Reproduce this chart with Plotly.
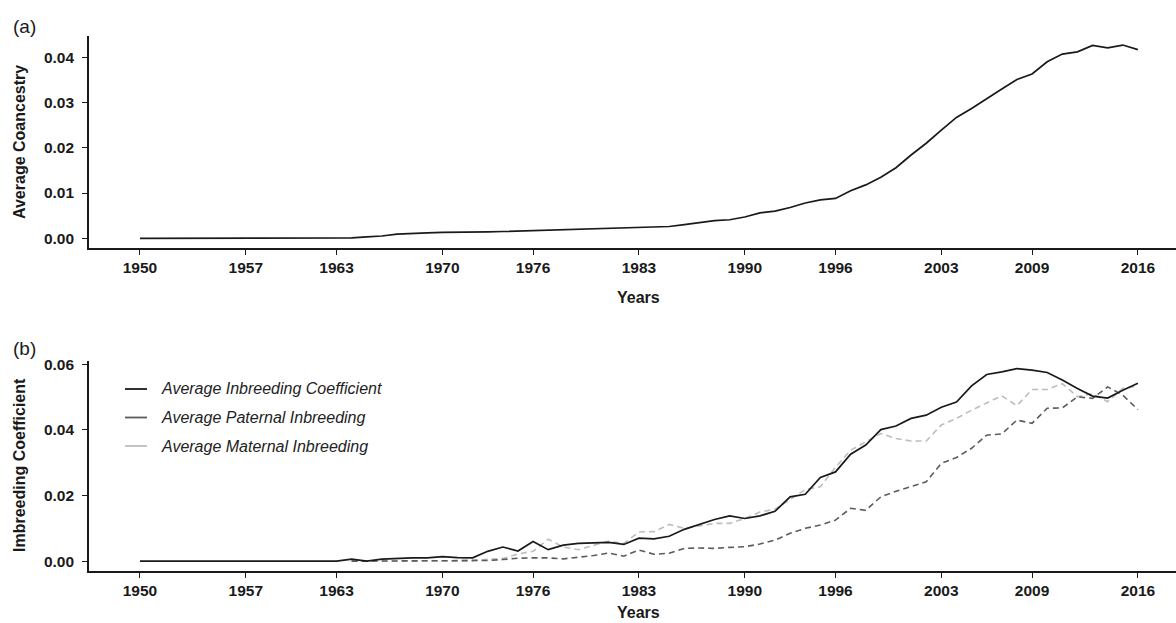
import plotly.graph_objects as go

# ---- data -----------------------------------------------------------------
years = list(range(1950, 2017))
tick_years = [1950, 1957, 1963, 1970, 1976, 1983, 1990, 1996, 2003, 2009, 2016]

avg_coancestry = [
    0.0000, 0.0000, 0.0000, 0.0000, 0.0000, 0.0000, 0.0000, 0.0000, 0.0000, 0.0000,
    0.0000, 0.0000, 0.0000, 0.0000, 0.0001, 0.0003, 0.0005, 0.0009, 0.0011, 0.0012,
    0.0013, 0.0013, 0.0014, 0.0014, 0.0015, 0.0016, 0.0017, 0.0017, 0.0018, 0.0019,
    0.0020, 0.0021, 0.0022, 0.0023, 0.0024, 0.0026, 0.0030, 0.0034, 0.0039, 0.0041,
    0.0047, 0.0056, 0.0060, 0.0068, 0.0078, 0.0085, 0.0088, 0.0105, 0.0118, 0.0135,
    0.0156, 0.0184, 0.0210, 0.0239, 0.0267, 0.0287, 0.0309, 0.0330, 0.0351, 0.0363,
    0.0390, 0.0407, 0.0412, 0.0426, 0.0421, 0.0427, 0.0417,
]

avg_inbreeding = [
    0.0000, 0.0000, 0.0000, 0.0000, 0.0000, 0.0000, 0.0000, 0.0000, 0.0000, 0.0000,
    0.0000, 0.0000, 0.0000, 0.0000, 0.0006, 0.0000, 0.0006, 0.0009, 0.0010, 0.0010,
    0.0014, 0.0011, 0.0010, 0.0030, 0.0043, 0.0031, 0.0060, 0.0035, 0.0049, 0.0054,
    0.0056, 0.0057, 0.0051, 0.0070, 0.0068, 0.0076, 0.0097, 0.0113, 0.0127, 0.0138,
    0.0130, 0.0138, 0.0152, 0.0196, 0.0204, 0.0255, 0.0272, 0.0326, 0.0354, 0.0401,
    0.0412, 0.0435, 0.0445, 0.0469, 0.0485, 0.0534, 0.0569, 0.0577, 0.0587, 0.0582,
    0.0575, 0.0552, 0.0526, 0.0503, 0.0497, 0.0521, 0.0542,
]

# parental components are only recorded from 1964 onwards
parent_years = list(range(1964, 2017))

avg_paternal = [
    0.0000, 0.0000, 0.0000, 0.0000, 0.0000, 0.0000, 0.0000, 0.0000, 0.0001, 0.0002,
    0.0005, 0.0009, 0.0010, 0.0010, 0.0007, 0.0011, 0.0017, 0.0025, 0.0015, 0.0034,
    0.0021, 0.0024, 0.0039, 0.0040, 0.0039, 0.0042, 0.0044, 0.0052, 0.0064, 0.0085,
    0.0100, 0.0110, 0.0125, 0.0161, 0.0155, 0.0196, 0.0213, 0.0227, 0.0242, 0.0298,
    0.0316, 0.0344, 0.0384, 0.0388, 0.0430, 0.0420, 0.0466, 0.0467, 0.0501, 0.0496,
    0.0531, 0.0506, 0.0462,
]

avg_maternal = [
    0.0000, 0.0000, 0.0000, 0.0000, 0.0000, 0.0000, 0.0000, 0.0001, 0.0003, 0.0005,
    0.0008, 0.0022, 0.0030, 0.0067, 0.0043, 0.0035, 0.0048, 0.0061, 0.0054, 0.0089,
    0.0090, 0.0112, 0.0100, 0.0107, 0.0115, 0.0115, 0.0130, 0.0150, 0.0158, 0.0188,
    0.0218, 0.0227, 0.0286, 0.0338, 0.0364, 0.0389, 0.0374, 0.0366, 0.0366, 0.0415,
    0.0435, 0.0460, 0.0482, 0.0504, 0.0474, 0.0523, 0.0523, 0.0541, 0.0501, 0.0511,
    0.0486, 0.0527, 0.0533,
]

legend_labels = [
    "Average Inbreeding Coefficient",
    "Average Paternal Inbreeding",
    "Average Maternal Inbreeding",
]

# ---- styling --------------------------------------------------------------
W, H = 1176, 623
M_L, M_R, M_T, M_B = 89, 0, 36, 52
PW, PH = W - M_L - M_R, H - M_T - M_B

FONT = "Liberation Sans, Arial, Helvetica, sans-serif"
INK = "#1a1a1a"
C_ALL, C_PAT, C_MAT = "#1a1a1a", "#5c5c5c", "#bdbdbd"
DASH = "6px,4px"


def px_x(x):
    return (x - M_L) / PW


def px_y(y):
    return (H - M_B - y) / PH


fig = go.Figure()

fig.add_trace(go.Scatter(x=years, y=avg_coancestry, mode="lines",
                         line=dict(color=C_ALL, width=1.7),
                         xaxis="x", yaxis="y", showlegend=False))

fig.add_trace(go.Scatter(x=parent_years, y=avg_maternal, mode="lines",
                         line=dict(color=C_MAT, width=1.6, dash=DASH),
                         xaxis="x2", yaxis="y2", showlegend=False))
fig.add_trace(go.Scatter(x=parent_years, y=avg_paternal, mode="lines",
                         line=dict(color=C_PAT, width=1.6, dash=DASH),
                         xaxis="x2", yaxis="y2", showlegend=False))
fig.add_trace(go.Scatter(x=years, y=avg_inbreeding, mode="lines",
                         line=dict(color=C_ALL, width=1.7),
                         xaxis="x2", yaxis="y2", showlegend=False))

x_range = [1946.63, 2018.52]

common_x = dict(
    range=x_range, tickmode="array", tickvals=tick_years,
    ticktext=[str(t) for t in tick_years],
    showgrid=False, zeroline=False, showline=True, linecolor=INK, linewidth=1.6,
    ticks="outside", ticklen=5, tickwidth=1.4, tickcolor=INK,
    tickfont=dict(family=FONT, size=15.5, color=INK, weight="bold"),
    fixedrange=True,
)
common_y = dict(
    showgrid=False, zeroline=False, showline=True, linecolor=INK, linewidth=1.6,
    ticks="outside", ticklen=5, tickwidth=1.4, tickcolor=INK,
    tickfont=dict(family=FONT, size=15.5, color=INK, weight="bold"),
    tickformat=".2f", ticklabelstandoff=5, fixedrange=True,
)

fig.update_layout(
    width=W, height=H,
    margin=dict(l=M_L, r=M_R, t=M_T, b=M_B, pad=0),
    paper_bgcolor="white", plot_bgcolor="white",
    showlegend=False,
    xaxis=dict(common_x, domain=[0, 1], anchor="y"),
    yaxis=dict(common_y, domain=[px_y(247.7), 1.0], anchor="x",
               range=[-0.00208, 0.0447], tickvals=[0, 0.01, 0.02, 0.03, 0.04]),
    xaxis2=dict(common_x, domain=[0, 1], anchor="y2"),
    yaxis2=dict(common_y, domain=[0.0, px_y(361)], anchor="x2",
                range=[-0.0030, 0.0610], tickvals=[0, 0.02, 0.04, 0.06]),
)

title_font = dict(family=FONT, size=16, color=INK, weight="bold")
centered = dict(xref="paper", yref="paper", xanchor="center", yanchor="middle",
                showarrow=False)
annotations = [
    dict(centered, text="(a)", x=px_x(24), y=px_y(26),
         font=dict(family=FONT, size=19, color=INK)),
    dict(centered, text="(b)", x=px_x(24), y=px_y(348),
         font=dict(family=FONT, size=19, color=INK)),
    dict(centered, text="Average Coancestry", x=px_x(19), y=px_y(142),
         textangle=-90, font=title_font),
    dict(centered, text="Imbreeding Coefficient", x=px_x(19), y=px_y(465),
         textangle=-90, font=title_font),
    dict(centered, text="Years", x=px_x(638), y=px_y(297), font=title_font),
    dict(centered, text="Years", x=px_x(638), y=px_y(612), font=title_font),
]

# key for panel (b): short solid strokes followed by italic labels
legend_colors = [C_ALL, C_PAT, C_MAT]
legend_rows = [389, 417.5, 446]
shapes = []
for label, color, row in zip(legend_labels, legend_colors, legend_rows):
    shapes.append(dict(type="line", xref="paper", yref="paper",
                       x0=px_x(125), x1=px_x(147), y0=px_y(row), y1=px_y(row),
                       line=dict(color=color, width=1.8)))
    annotations.append(dict(text=label, x=px_x(159), y=px_y(row), xref="paper",
                            yref="paper", xanchor="left", yanchor="middle",
                            showarrow=False,
                            font=dict(family=FONT, size=16, color="#222222",
                                      style="italic")))

fig.update_layout(annotations=annotations, shapes=shapes)

fig.write_html("out.html")
